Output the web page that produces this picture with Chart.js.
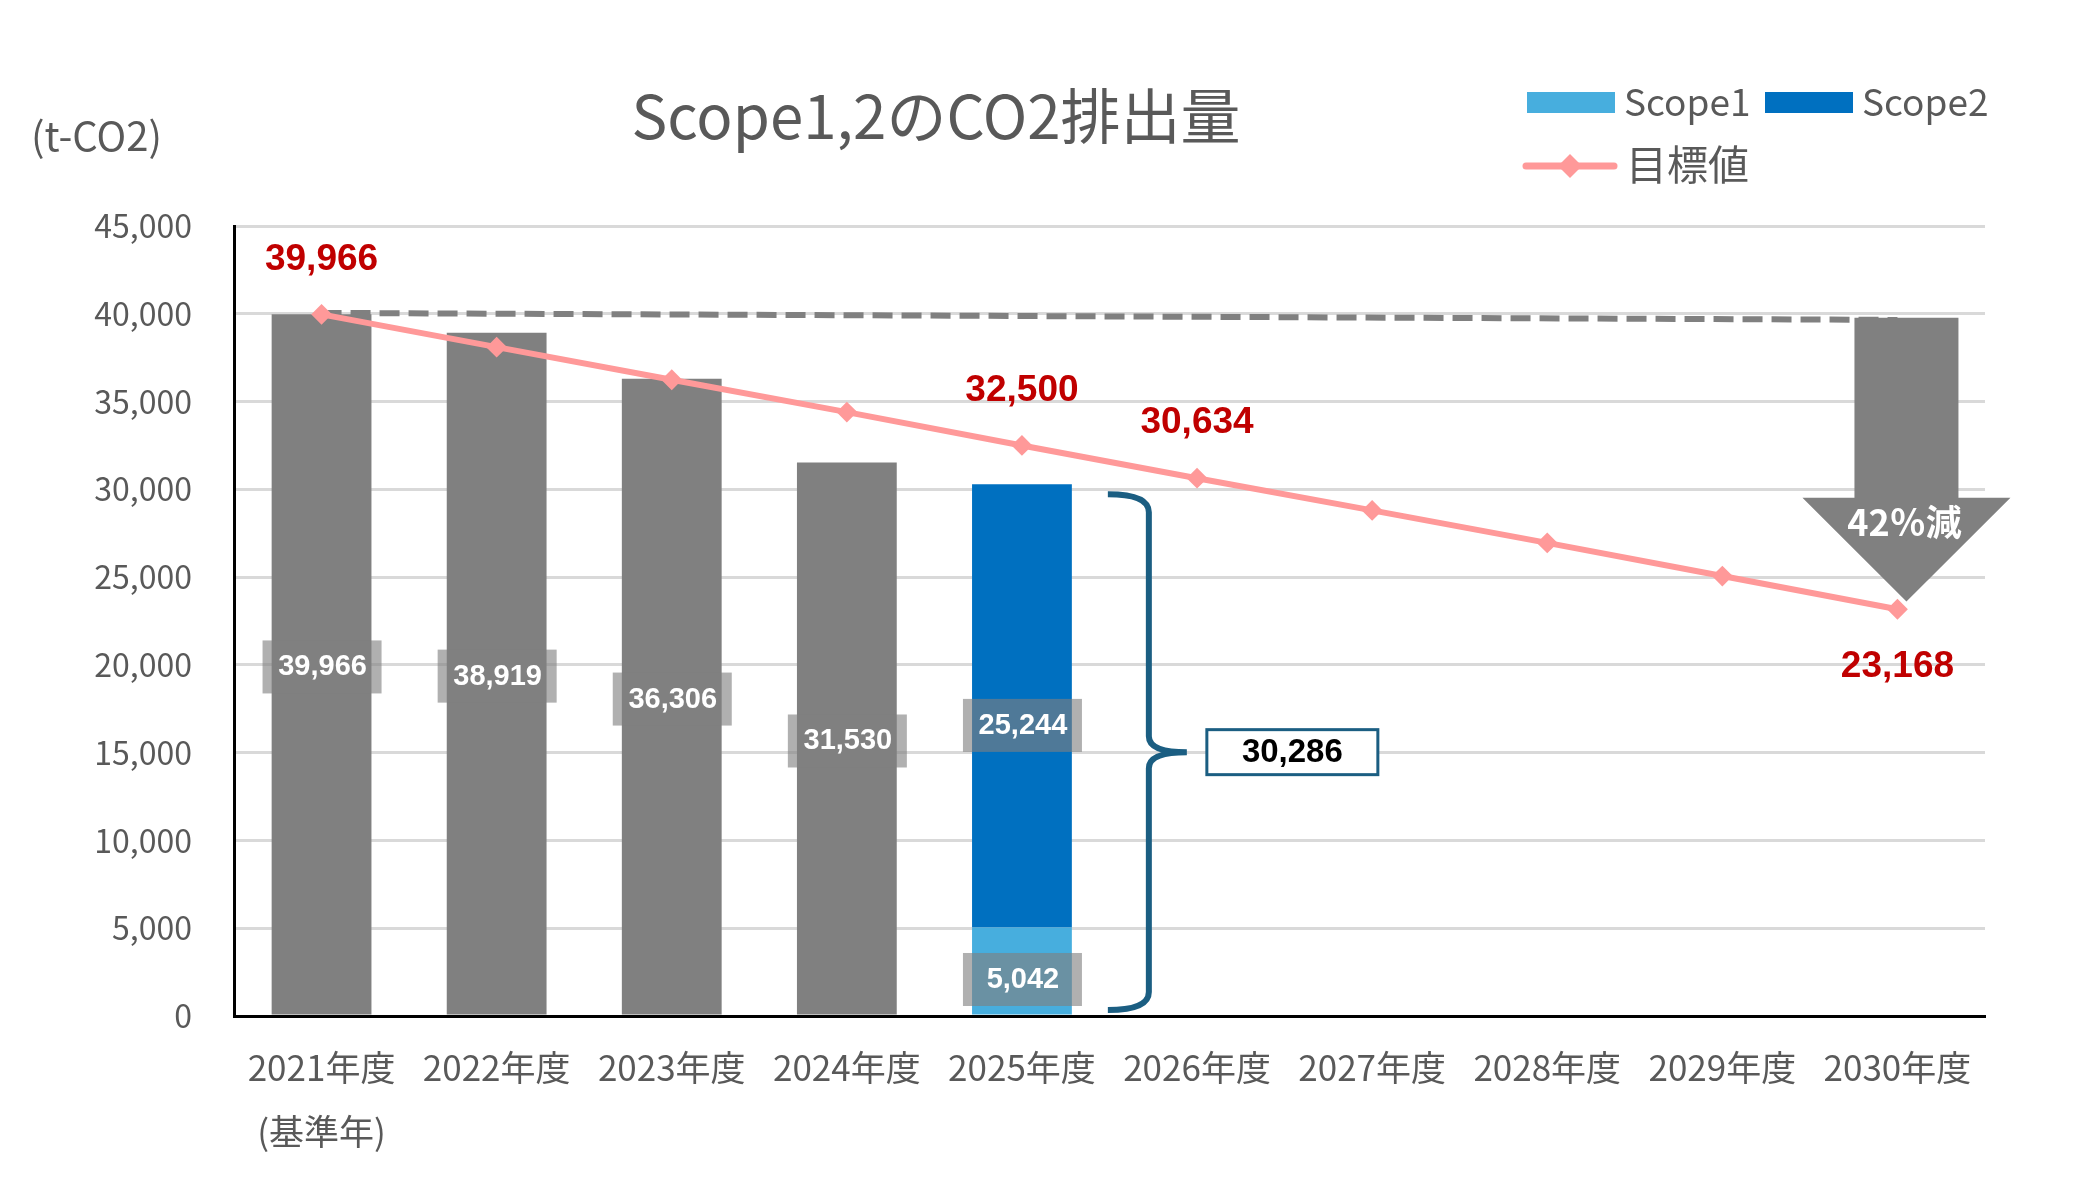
<!DOCTYPE html>
<html lang="ja">
<head>
<meta charset="utf-8">
<title>Scope1,2のCO2排出量</title>
<script src="https://cdn.jsdelivr.net/npm/chart.js@4/dist/chart.umd.min.js"></script>
<style>
  html, body { margin: 0; padding: 0; background: #fff; }
  #wrap { width: 2076px; height: 1193px; position: relative; }
</style>
</head>
<body>
<div id="wrap"><canvas id="co2Chart"></canvas></div>
<script>
// ---- data ----
const categories = ['2021年度', '2022年度', '2023年度', '2024年度', '2025年度',
                    '2026年度', '2027年度', '2028年度', '2029年度', '2030年度'];
const categoryNotes = ['(基準年)', '', '', '', '', '', '', '', '', ''];
const actual = [39966, 38919, 36306, 31530, null, null, null, null, null, null];
const scope1 = [null, null, null, null, 5042, null, null, null, null, null];
const scope2 = [null, null, null, null, 25244, null, null, null, null, null];
const target = [39966, 38100, 36240, 34400, 32500, 30634, 28800, 26950, 25060, 23168];
const baseline = [40050, null, null, null, null, null, null, null, null, 39650];
const targetLabelIdx = [0, 4, 5, 9];   // which target points get a red value label
const yMax = 45000;
const yStep = 5000;

// arrow at 2030 (values on the y axis)
const arrowTop = 39770;
const arrowHead = 29525;
const arrowTip = 23610;
const arrowText = '42％減';

const titleText = 'Scope1,2のCO2排出量';
const unitText = '(t-CO2)';

const fmt = v => v.toLocaleString('en-US');
const TEXT = '#595959';
const JP = '"Noto Sans CJK JP", "Noto Sans", sans-serif';
const NUM = '"Liberation Sans", Arial, sans-serif';

const labels = categories.map((c, i) => categoryNotes[i] ? [c, categoryNotes[i]] : c);

// excel put the scope labels a bit below the segment middle
const labelShift = [2, 8, 19];

// draws everything Excel had as shapes / labels
const overlay = {
  id: 'overlay',
  afterDatasetDraw(chart, args) {
    // arrow sits over the dashed line but under the target line
    if (args.index !== 4) return;
    const ctx = chart.ctx, xs = chart.scales.x, ys = chart.scales.y;
    const cx = xs.getPixelForValue(9) + 9;
    const shaftW = 52, headW = 104;
    const yTop = ys.getPixelForValue(arrowTop);
    const yHead = ys.getPixelForValue(arrowHead);
    const yTip = ys.getPixelForValue(arrowTip);
    ctx.save();
    ctx.fillStyle = '#808080';
    ctx.beginPath();
    ctx.moveTo(cx - shaftW, yTop);
    ctx.lineTo(cx + shaftW, yTop);
    ctx.lineTo(cx + shaftW, yHead);
    ctx.lineTo(cx + headW, yHead);
    ctx.lineTo(cx, yTip);
    ctx.lineTo(cx - headW, yHead);
    ctx.lineTo(cx - shaftW, yHead);
    ctx.closePath();
    ctx.fill();
    ctx.fillStyle = '#fff';
    ctx.font = 'bold 36px ' + JP;
    ctx.textAlign = 'center';
    ctx.textBaseline = 'middle';
    ctx.fillText(arrowText, cx - 2, yHead + 25);
    ctx.restore();
  },
  afterDatasetsDraw(chart) {
    const ctx = chart.ctx, ys = chart.scales.y;
    ctx.save();
    // value boxes inside bars
    [0, 1, 2].forEach(di => {
      const meta = chart.getDatasetMeta(di);
      chart.data.datasets[di].data.forEach((v, i) => {
        if (v == null) return;
        const bar = meta.data[i];
        const cy = (bar.y + bar.base) / 2 + labelShift[di];
        ctx.fillStyle = 'rgba(128,128,128,0.62)';
        ctx.fillRect(bar.x - 59, cy - 26, 119, 53);
        ctx.fillStyle = '#fff';
        ctx.font = 'bold 29px ' + NUM;
        ctx.textAlign = 'center';
        ctx.textBaseline = 'middle';
        ctx.fillText(fmt(v), bar.x + 1, cy + 1);
      });
    });
    // red target labels
    const tMeta = chart.getDatasetMeta(3);
    ctx.fillStyle = '#C00000';
    ctx.font = 'bold 37px ' + NUM;
    ctx.textAlign = 'center';
    ctx.textBaseline = 'middle';
    targetLabelIdx.forEach(i => {
      const p = tMeta.data[i];
      const dy = i === targetLabelIdx[targetLabelIdx.length - 1] ? 58 : -55;
      ctx.fillText(fmt(target[i]), p.x, p.y + dy);
    });
    // brace around the 2025 stack
    const bar = chart.getDatasetMeta(2).data[4];
    const total = scope1[4] + scope2[4];
    const x0 = bar.x + bar.width / 2 + 36;
    const x1 = x0 + 41;
    const x2 = x1 + 38;
    const yT = ys.getPixelForValue(total) + 10;
    const yB = ys.getPixelForValue(0) - 6;
    const yM = (yT + yB) / 2;
    ctx.strokeStyle = '#1B5E82';
    ctx.lineWidth = 6;
    ctx.lineCap = 'butt';
    ctx.beginPath();
    ctx.moveTo(x0, yT);
    ctx.quadraticCurveTo(x1, yT, x1, yT + 18);
    ctx.lineTo(x1, yM - 16);
    ctx.quadraticCurveTo(x1, yM, x2, yM);
    ctx.moveTo(x2, yM);
    ctx.quadraticCurveTo(x1, yM, x1, yM + 16);
    ctx.lineTo(x1, yB - 18);
    ctx.quadraticCurveTo(x1, yB, x0, yB);
    ctx.stroke();
    // total box
    const bx = x2 + 20, bw = 171, bh = 45;
    ctx.fillStyle = '#fff';
    ctx.fillRect(bx, yM - bh / 2, bw, bh);
    ctx.lineWidth = 3;
    ctx.strokeRect(bx, yM - bh / 2, bw, bh);
    ctx.fillStyle = '#000';
    ctx.font = 'bold 33px ' + NUM;
    ctx.fillText(fmt(total), bx + bw / 2, yM + 1);
    ctx.restore();
  },
  afterDraw(chart) {
    const ctx = chart.ctx;
    const ds = chart.data.datasets;
    ctx.save();
    ctx.fillStyle = TEXT;
    ctx.textBaseline = 'middle';
    // title
    ctx.font = '60px ' + JP;
    ctx.textAlign = 'center';
    ctx.fillText(titleText, 936, 116);
    // unit
    ctx.font = '40px ' + JP;
    ctx.textAlign = 'left';
    ctx.fillText(unitText, 31, 136);
    // legend
    ctx.font = '37px ' + JP;
    ctx.fillStyle = ds[1].backgroundColor;
    ctx.fillRect(1527, 92, 88, 21);
    ctx.fillStyle = ds[2].backgroundColor;
    ctx.fillRect(1765, 92, 88, 21);
    ctx.fillStyle = TEXT;
    ctx.fillText(ds[1].label, 1624, 102);
    ctx.fillText(ds[2].label, 1862, 102);
    ctx.strokeStyle = ds[3].borderColor;
    ctx.lineWidth = 7;
    ctx.lineCap = 'round';
    ctx.beginPath();
    ctx.moveTo(1526, 166);
    ctx.lineTo(1614, 166);
    ctx.stroke();
    ctx.fillStyle = ds[3].borderColor;
    ctx.beginPath();
    ctx.moveTo(1570, 154);
    ctx.lineTo(1582, 166);
    ctx.lineTo(1570, 178);
    ctx.lineTo(1558, 166);
    ctx.closePath();
    ctx.fill();
    ctx.fillStyle = TEXT;
    ctx.font = '41px ' + JP;
    ctx.fillText(ds[3].label, 1626, 164);
    ctx.restore();
  }
};

new Chart(document.getElementById('co2Chart'), {
  type: 'bar',
  data: {
    labels: labels,
    datasets: [
      { label: '実績', data: actual, backgroundColor: '#808080', stack: 'bar', order: 3 },
      { label: 'Scope1', data: scope1, backgroundColor: '#47AEDE', stack: 'bar', order: 3 },
      { label: 'Scope2', data: scope2, backgroundColor: '#0070C0', stack: 'bar', order: 3 },
      { label: '目標値', type: 'line', data: target, stack: 'target', order: 0,
        borderColor: '#FF9999', backgroundColor: '#FF9999', borderWidth: 6,
        pointStyle: 'rectRot', pointRadius: 9, pointBorderWidth: 2,
        pointBackgroundColor: '#FF9999', pointBorderColor: '#FF9999' },
      { label: '基準', type: 'line', data: baseline, stack: 'base', order: 1,
        spanGaps: true, borderColor: '#808080', borderWidth: 6, borderDash: [20, 9],
        pointRadius: 0 }
    ]
  },
  options: {
    responsive: true,
    maintainAspectRatio: false,
    animation: false,
    layout: { padding: { left: 0, right: 91, top: 226, bottom: 0 } },
    datasets: { bar: { barPercentage: 0.57, categoryPercentage: 1.0 } },
    plugins: {
      legend: { display: false },
      title: { display: false },
      tooltip: { enabled: false }
    },
    scales: {
      x: {
        stacked: true,
        grid: { display: false, drawTicks: false },
        border: { display: true, color: '#000', width: 3 },
        ticks: { color: TEXT, padding: 20, maxRotation: 0, autoSkip: false,
                 font: { family: JP, size: 35, lineHeight: 1.83 } },
        afterFit: s => { s.height = 177; }
      },
      y: {
        stacked: true,
        min: 0,
        max: yMax,
        grid: { color: '#D9D9D9', lineWidth: 3, drawTicks: false },
        border: { display: true, color: '#000', width: 3 },
        ticks: { stepSize: yStep, color: TEXT, padding: 42,
                 font: { family: JP, size: 32 },
                 callback: v => fmt(v) },
        afterFit: s => { s.width = 234; }
      }
    }
  },
  plugins: [overlay]
});
</script>
</body>
</html>
